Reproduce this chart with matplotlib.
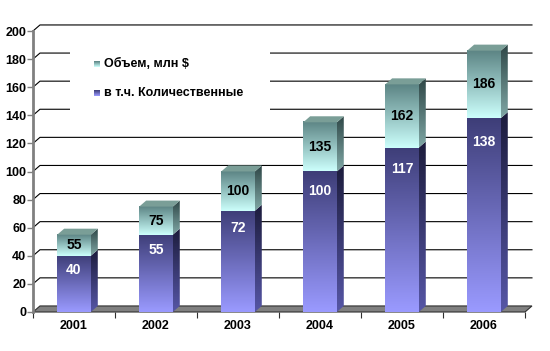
import numpy as np
import matplotlib.pyplot as plt
from matplotlib.colors import LinearSegmentedColormap
from matplotlib.patches import Polygon, Rectangle

# data
years = ['2001', '2002', '2003', '2004', '2005', '2006']
volume = [55, 75, 100, 135, 162, 186]      # Объем, млн $
quant = [40, 55, 72, 100, 117, 138]        # в т.ч. Количественные
series_names = ['Объем, млн $', 'в т.ч. Количественные']
y_ticks = list(range(0, 201, 20))

plt.rcParams['font.family'] = ['Liberation Sans', 'DejaVu Sans']
plt.rcParams['font.weight'] = 'bold'

# 3d look: depth offset in data units, bar width in category units
DX, DY = 0.085, 4.3
W = 0.41

cm_low = LinearSegmentedColormap.from_list('low', ['#9a9aff', '#3e3e78'])
cm_low_side = LinearSegmentedColormap.from_list('low_side', ['#5656a6', '#1c1c3c'])
cm_up = LinearSegmentedColormap.from_list('up', ['#ccfffc', '#5c8484'])
cm_up_side = LinearSegmentedColormap.from_list('up_side', ['#80a8a6', '#2e4646'])
top_color = '#7a9e97'


def gradient(ax, x0, x1, y0, y1, cmap, clip=None, z=3):
    g = np.linspace(0, 1, 128).reshape(-1, 1)
    im = ax.imshow(g, cmap=cmap, extent=(x0, x1, y0, y1), origin='lower',
                   aspect='auto', interpolation='bilinear', zorder=z)
    if clip is not None:
        im.set_clip_path(clip)
    return im


def block(ax, xc, y0, y1, front, side):
    x0, x1 = xc - W / 2, xc + W / 2
    gradient(ax, x0, x1, y0, y1, front)
    side_poly = Polygon([(x1, y0), (x1 + DX, y0 + DY), (x1 + DX, y1 + DY), (x1, y1)],
                        closed=True, transform=ax.transData)
    gradient(ax, x1, x1 + DX, y0, y1 + DY, side, clip=side_poly)


fig = plt.figure(figsize=(5.5, 3.51), dpi=100)
fig.patch.set_facecolor('white')
ax = fig.add_axes([33 / 550, 39 / 351, 492 / 550, 281 / 351])
n = len(years)

# back grid lines with the little diagonal from the axis
for v in y_ticks[1:]:
    ax.plot([0, DX, n + DX], [v, v + DY, v + DY], color='black', lw=0.8,
            zorder=1, clip_on=False)

# floor
floor = Polygon([(0, 0), (DX, DY), (n + DX, DY), (n, 0)], closed=True,
                facecolor='#808080', edgecolor='#303030', lw=0.8,
                zorder=2, clip_on=False)
ax.add_patch(floor)

# legend box sits over the grid
ax.add_patch(Rectangle((37 / 492, 192 / 281), 200 / 492, 80 / 281, transform=ax.transAxes,
                       facecolor='white', edgecolor='none', zorder=2.5))
leg_rows = [(248 / 281, cm_up), (219 / 281, cm_low)]
for (fy, cm), name in zip(leg_rows, series_names):
    sq_x0, sq_x1 = 61 / 492, 67 / 492
    ax.imshow(np.linspace(0, 1, 16).reshape(-1, 1), cmap=cm, origin='lower', aspect='auto',
              extent=(sq_x0, sq_x1, fy - 3 / 281, fy + 3 / 281),
              transform=ax.transAxes, zorder=3)
    ax.text(71 / 492, fy, name, transform=ax.transAxes, ha='left', va='center',
            fontsize=9, fontweight='bold', color='black', zorder=4)

# bars
for i, (tot, q) in enumerate(zip(volume, quant)):
    xc = i + 0.5
    block(ax, xc, 0, q, cm_low, cm_low_side)
    block(ax, xc, q, tot, cm_up, cm_up_side)
    x0, x1 = xc - W / 2, xc + W / 2
    ax.add_patch(Polygon([(x0, tot), (x0 + DX, tot + DY), (x1 + DX, tot + DY), (x1, tot)],
                         closed=True, facecolor=top_color, edgecolor='none', zorder=3))
    ax.text(xc, (q + tot) / 2, str(tot), ha='center', va='center', fontsize=10,
            fontweight='bold', color='black', zorder=5)
    ax.text(xc, 0.93 * q - 7, str(q), ha='center', va='center', fontsize=10,
            fontweight='bold', color='white', zorder=5)

ax.set_xlim(0, n)
ax.set_ylim(0, 200)
ax.set_yticks(y_ticks)
ax.set_xticks(range(n + 1))
ax.set_xticklabels([])
ax.set_xticks(np.arange(n) + 0.5, minor=True)
ax.set_xticklabels(years, minor=True)
ax.tick_params(axis='y', length=4, width=1, color='#808080', pad=1, labelsize=9)
ax.tick_params(axis='x', which='major', length=4, width=0.8, color='#303030')
ax.tick_params(axis='x', which='minor', length=0, pad=6, labelsize=9)

for s in ['top', 'right']:
    ax.spines[s].set_visible(False)
ax.spines['bottom'].set_visible(False)
ax.spines['left'].set_color('#808080')
ax.spines['left'].set_linewidth(2)
ax.patch.set_alpha(0)

fig.savefig('out.png', dpi=100)
